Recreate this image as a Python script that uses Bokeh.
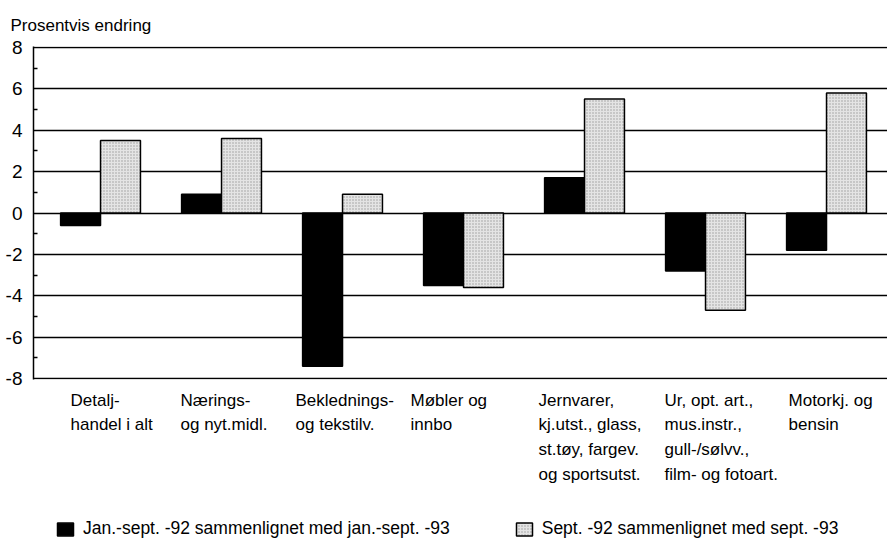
from bokeh.plotting import figure
from bokeh.layouts import column
from bokeh.models import Range1d, FixedTicker, Legend, LegendItem, ColumnDataSource, Title
from bokeh.embed import file_html
from bokeh.resources import INLINE

# ---- data ----
categories = [
    "Detalj-\nhandel i alt",
    "Nærings-\nog nyt.midl.",
    "Beklednings-\nog tekstilv.",
    "Møbler og\ninnbo",
    "Jernvarer,\nkj.utst., glass,\nst.tøy, fargev.\nog sportsutst.",
    "Ur, opt. art.,\nmus.instr.,\ngull-/sølvv.,\nfilm- og fotoart.",
    "Motorkj. og\nbensin",
]
jan_sept = [-0.6, 0.9, -7.4, -3.5, 1.7, -2.8, -1.8]
sept = [3.5, 3.6, 0.9, -3.6, 5.5, -4.7, 5.8]
series_names = [
    "Jan.-sept. -92 sammenlignet med jan.-sept. -93",
    "Sept. -92 sammenlignet med sept. -93",
]
y_title = "Prosentvis endring"
y_ticks = [-8, -6, -4, -2, 0, 2, 4, 6, 8]
y_minor = [-7, -5, -3, -1, 1, 3, 5, 7]

# ---- layout / style ----
FONT = "Liberation Sans"
label_dx = [-30, -41, -47, -53, -46, -41, -38]
BAR_W = 0.33
W = 887
LEFT = 33

idx = list(range(len(categories)))
src = ColumnDataSource(dict(
    x1=[i - BAR_W / 2 for i in idx],
    x2=[i + BAR_W / 2 for i in idx],
    a=jan_sept,
    b=sept,
))

xr = Range1d(-0.554, 6.504)

p = figure(width=W, height=389, output_backend="svg", toolbar_location=None,
           x_range=xr, y_range=Range1d(-8.04, 8.04),
           min_border_left=LEFT, min_border_right=0, min_border_top=46,
           min_border_bottom=10)
p.outline_line_color = None
p.background_fill_color = "white"
p.border_fill_color = "white"

title = Title(text=y_title, align="left", offset=-23, standoff=24,
              text_font=FONT, text_font_size="17px", text_font_style="normal",
              text_color="black")
p.add_layout(title, "above")

r1 = p.vbar(x="x1", top="a", bottom=0, width=BAR_W, source=src,
            fill_color="black", line_color="black", line_width=1.5)
r2 = p.vbar(x="x2", top="b", bottom=0, width=BAR_W, source=src,
            fill_color="#e4e4e4", line_color="black", line_width=1.5,
            hatch_pattern="dot", hatch_color="#9a9a9a", hatch_scale=3,
            hatch_weight=1)

p.xaxis.visible = False
p.xgrid.visible = False

yax = p.yaxis[0]
yax.ticker = FixedTicker(ticks=y_ticks, minor_ticks=y_minor)
yax.major_label_overrides = {t: str(t) for t in y_ticks}
yax.axis_line_color = "black"
yax.axis_line_width = 1.5
yax.major_tick_out = 0
yax.major_tick_in = 0
yax.minor_tick_in = 4
yax.minor_tick_out = 0
yax.minor_tick_line_color = "black"
yax.minor_tick_line_width = 1.5
yax.major_label_text_font = FONT
yax.major_label_text_font_size = "19px"
yax.major_label_text_color = "black"
yax.major_label_standoff = 11

p.ygrid.ticker = FixedTicker(ticks=y_ticks)
p.ygrid.grid_line_color = "black"
p.ygrid.grid_line_width = 1.5

# ---- lower panel: category labels + legend ----
H2 = 150
q = figure(width=W, height=H2, output_backend="svg", toolbar_location=None,
           x_range=xr, y_range=Range1d(H2, 0),
           x_axis_location=None, y_axis_location=None,
           min_border_left=LEFT, min_border_right=0, min_border_top=0,
           min_border_bottom=0)
q.outline_line_color = None
q.xgrid.visible = False
q.ygrid.visible = False
q.background_fill_color = "white"
q.border_fill_color = "white"

lab_src = ColumnDataSource(dict(x=idx, y=[1] * len(idx), text=categories,
                                dx=label_dx))
q.text(x="x", y="y", text="text", x_offset="dx", source=lab_src,
       text_align="left", text_baseline="top", text_font_size="17px",
       text_font={"value": FONT}, text_color="black", text_line_height=1.3)

# legend proxies (zero-size) share styling with bars
g1 = q.vbar(x=[0], top=[0], bottom=[0], width=0, fill_color="black",
            line_color="black", line_width=1.5)
g2 = q.vbar(x=[0], top=[0], bottom=[0], width=0, fill_color="#e4e4e4",
            line_color="black", line_width=1.5, hatch_pattern="dot",
            hatch_color="#9a9a9a", hatch_scale=3, hatch_weight=1)
legend = Legend(items=[LegendItem(label=series_names[0], renderers=[g1]),
                       LegendItem(label=series_names[1], renderers=[g2])],
                orientation="horizontal", location=(22, 0),
                glyph_width=20, glyph_height=16, label_standoff=8,
                spacing=64, padding=0, margin=0, border_line_color=None,
                background_fill_alpha=0, label_text_font=FONT,
                label_text_font_size="17.5px", label_text_color="black")
q.add_layout(legend)

layout = column(p, q, spacing=0)
open("out.html", "w").write(file_html(layout, INLINE))
